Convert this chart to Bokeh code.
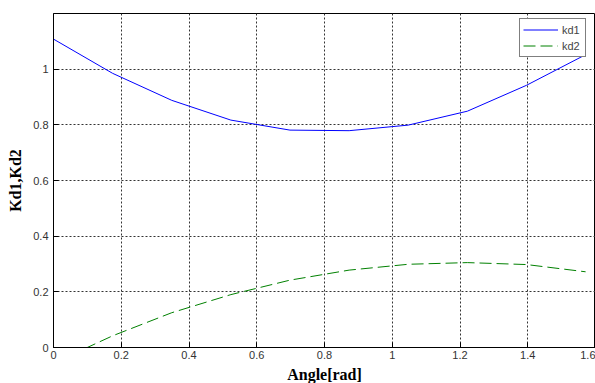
import numpy as np
from bokeh.plotting import figure
from bokeh.models import Range1d, FixedTicker, Legend, LegendItem
from bokeh.embed import file_html
from bokeh.resources import INLINE

# Data (angle in rad, 10 degree steps)
angle = [0.0, 0.1745, 0.3491, 0.5236, 0.6981, 0.8727, 1.0472, 1.2217, 1.3963, 1.5708]
kd1 = [1.108, 0.985, 0.888, 0.817, 0.781, 0.779, 0.799, 0.849, 0.942, 1.052]
kd2 = [-0.056, 0.042, 0.125, 0.190, 0.242, 0.278, 0.299, 0.305, 0.298, 0.272]

x_ticks = [0, 0.2, 0.4, 0.6, 0.8, 1.0, 1.2, 1.4, 1.6]
x_tick_labels = ["0", "0.2", "0.4", "0.6", "0.8", "1", "1.2", "1.4", "1.6"]
y_ticks = [0, 0.2, 0.4, 0.6, 0.8, 1.0]
y_tick_labels = ["0", "0.2", "0.4", "0.6", "0.8", "1"]

p = figure(frame_width=542, frame_height=334, output_backend="svg",
           toolbar_location=None, x_range=Range1d(0, 1.6), y_range=Range1d(0, 1.2),
           min_border_left=53, min_border_right=0, min_border_top=13, min_border_bottom=36)
p.background_fill_color = "white"
p.border_fill_color = "white"
p.outline_line_color = "black"
p.outline_line_width = 1

r1 = p.line(angle, kd1, line_color="#0000ff", line_width=1)
r2 = p.line(angle, kd2, line_color="#008000", line_width=1, line_dash="12 5")

for ax, ticks, labels in ((p.xaxis[0], x_ticks, x_tick_labels), (p.yaxis[0], y_ticks, y_tick_labels)):
    ax.ticker = FixedTicker(ticks=ticks)
    ax.major_label_overrides = {t: l for t, l in zip(ticks, labels)}
    ax.major_tick_in = 5
    ax.major_tick_out = 0
    ax.minor_tick_line_color = None
    ax.axis_line_color = "black"
    ax.major_tick_line_color = "black"
    ax.major_label_text_font = "Liberation Sans"
    ax.major_label_text_font_size = "11px"
    ax.major_label_text_color = "#333333"
    ax.axis_label_text_font = "Liberation Serif"
    ax.axis_label_text_font_style = "bold"
    ax.axis_label_text_font_size = "16px"
    ax.axis_label_text_color = "black"

p.xaxis.axis_label = "Angle[rad]"
p.yaxis.axis_label = "Kd1,Kd2"
p.xaxis.major_label_standoff = 3
p.xaxis.axis_label_standoff = 4
p.yaxis.major_label_standoff = 5
p.yaxis.axis_label_standoff = 6

for g in (p.xgrid[0], p.ygrid[0]):
    g.ticker = FixedTicker(ticks=x_ticks if g is p.xgrid[0] else y_ticks + [1.2])
    g.grid_line_color = "#333333"
    g.grid_line_dash = "2 2"
    g.grid_line_width = 1

legend = Legend(items=[LegendItem(label="kd1", renderers=[r1]),
                       LegendItem(label="kd2", renderers=[r2])],
                location=(466, 290))
legend.border_line_color = "black"
legend.border_line_width = 1
legend.background_fill_color = "white"
legend.background_fill_alpha = 1
legend.label_text_font = "Liberation Sans"
legend.label_text_font_size = "11px"
legend.glyph_width = 35
legend.glyph_height = 15
legend.label_height = 15
legend.label_standoff = 4
legend.padding = 3
legend.spacing = 1
legend.margin = 0
p.add_layout(legend)

open("out.html", "w").write(file_html(p, INLINE))
